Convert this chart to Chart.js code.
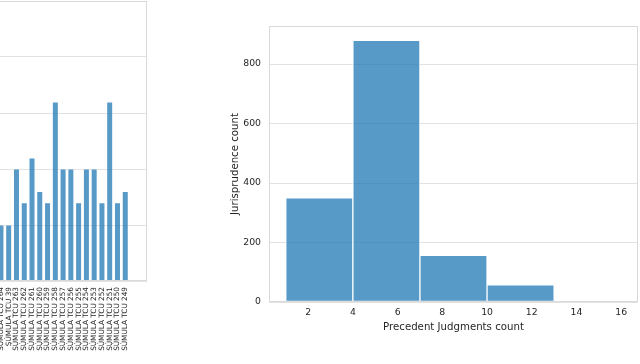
<!DOCTYPE html>
<html>
<head>
<meta charset="utf-8">
<title>Precedent judgments</title>
<script src="https://cdn.jsdelivr.net/npm/chart.js@4.4.1/dist/chart.umd.min.js"></script>
<style>
  html, body { margin: 0; padding: 0; background: #fff; }
  #stage { position: relative; width: 640px; height: 364px; overflow: hidden; background: #fff; }
  #stage canvas { position: absolute; top: 0; }
  #summaryChart { left: -63px; }
  #histChart { left: 200px; }
</style>
</head>
<body>
<div id="stage">
  <canvas id="summaryChart" width="212" height="364"></canvas>
  <canvas id="histChart" width="440" height="364"></canvas>
</div>
<script>
// ===========================
// DATA
// ===========================
const summaryLabels = [
  "SÚMULA TCU 264", "SÚMULA TCU 39", "SÚMULA TCU 263", "SÚMULA TCU 262",
  "SÚMULA TCU 261", "SÚMULA TCU 260", "SÚMULA TCU 259", "SÚMULA TCU 258",
  "SÚMULA TCU 257", "SÚMULA TCU 256", "SÚMULA TCU 255", "SÚMULA TCU 254",
  "SÚMULA TCU 253", "SÚMULA TCU 252", "SÚMULA TCU 251", "SÚMULA TCU 250",
  "SÚMULA TCU 249"
];
const summaryCounts = [5, 5, 10, 7, 11, 8, 7, 16, 10, 10, 7, 10, 10, 7, 16, 7, 8];

const binEdges = [1, 4, 7, 10, 13, 16];
const binCounts = [350, 880, 157, 58, 1];
const countTicks = [2, 4, 6, 8, 10, 12, 14, 16];

// ===========================
// STYLE
// ===========================
const barFill = "rgba(31, 119, 180, 0.75)";
const gridColor = "#e2e2e2";
const frameColor = "#d9d9d9";
const textColor = "#262626";

Chart.defaults.font.family = "'DejaVu Sans', sans-serif";
Chart.defaults.color = textColor;

// draws the four spines round the plot area
const framePlugin = {
  id: "frame",
  afterDraw(chart) {
    const { ctx, chartArea: a } = chart;
    ctx.save();
    ctx.strokeStyle = frameColor;
    ctx.lineWidth = 1;
    ctx.strokeRect(Math.round(a.left) + 0.5, Math.round(a.top) + 0.5,
      Math.round(a.right - a.left) - 1, Math.round(a.bottom - a.top) - 1);
    ctx.restore();
  }
};

// ===========================
// LEFT: counts per summary (cut at the page edge)
// ===========================
function drawSummaryChart() {
  new Chart(document.getElementById("summaryChart"), {
    type: "bar",
    data: {
      datasets: [{
        data: summaryCounts.map((v, i) => ({ x: i, y: v })),
        backgroundColor: barFill,
        borderColor: "rgba(255,255,255,0.5)",
        borderWidth: 0.6,
        borderSkipped: false,
        barPercentage: 0.8,
        categoryPercentage: 1
      }]
    },
    options: {
      responsive: false,
      animation: false,
      layout: { padding: { top: 1, right: 2, left: 0, bottom: 0 } },
      plugins: { legend: { display: false }, tooltip: { enabled: false } },
      scales: {
        x: {
          type: "linear",
          offset: false,
          min: -3.08,
          max: 18.8,
          grid: { display: false, drawTicks: false },
          border: { display: false },
          afterBuildTicks: (s) => { s.ticks = summaryLabels.map((_, i) => ({ value: i })); },
          afterFit: (s) => { s.height = 83; },
          ticks: {
            autoSkip: false,
            minRotation: 90,
            maxRotation: 90,
            padding: 6,
            font: { size: 7.3 },
            callback: (v) => summaryLabels[v] ?? ""
          }
        },
        y: {
          min: 0,
          max: 25,
          grid: { color: gridColor, drawTicks: false },
          border: { display: false },
          afterFit: (s) => { s.width = 40; },
          // the tick labels sit off the page, only the grid is seen
          ticks: { stepSize: 5, display: false }
        }
      }
    },
    plugins: [framePlugin]
  });
}

// ===========================
// RIGHT: histogram of precedent judgments
// ===========================
function drawHistogram() {
  const binCenters = binCounts.map((_, i) => (binEdges[i] + binEdges[i + 1]) / 2);
  const bins = binCounts.map((c, i) => ({ x: binCenters[i], y: c }));

  new Chart(document.getElementById("histChart"), {
    type: "bar",
    data: {
      datasets: [{
        data: bins,
        xAxisID: "xBins",
        backgroundColor: barFill,
        borderColor: "#ffffff",
        borderWidth: 1,
        borderSkipped: false,
        barPercentage: 1,
        categoryPercentage: 1
      }]
    },
    options: {
      responsive: false,
      animation: false,
      layout: { padding: { top: 26, right: 2, left: 0, bottom: 0 } },
      plugins: { legend: { display: false }, tooltip: { enabled: false } },
      scales: {
        // hidden axis holding the bins, so bar width = bin width
        xBins: {
          type: "linear",
          display: false,
          offset: false,
          min: 0.25,
          max: 16.75,
          afterBuildTicks: (s) => { s.ticks = binCenters.map(v => ({ value: v })); }
        },
        x: {
          type: "linear",
          offset: false,
          min: 0.25,
          max: 16.75,
          grid: { display: false, drawTicks: false },
          border: { display: false },
          afterBuildTicks: (s) => { s.ticks = countTicks.map(v => ({ value: v })); },
          afterFit: (s) => { s.height = 62; },
          ticks: { padding: 5, font: { size: 9.3 }, maxRotation: 0 },
          title: {
            display: true,
            text: "Precedent Judgments count",
            font: { size: 10.2 },
            padding: { top: 0, bottom: 31 }
          }
        },
        y: {
          min: 0,
          max: 928,
          grid: { color: gridColor, drawTicks: false },
          border: { display: false },
          afterFit: (s) => { s.width = 69; },
          ticks: { stepSize: 200, includeBounds: false, padding: 8, font: { size: 9.3 } },
          title: {
            display: true,
            text: "Jurisprudence count",
            font: { size: 10.2 },
            padding: { top: 29, bottom: 0 }
          }
        }
      }
    },
    plugins: [framePlugin]
  });
}

drawSummaryChart();
drawHistogram();
</script>
</body>
</html>
